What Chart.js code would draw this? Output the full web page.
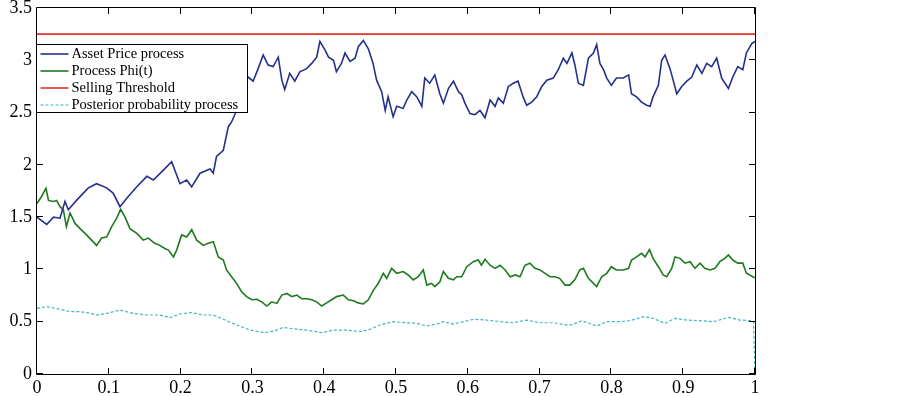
<!DOCTYPE html>
<html><head><meta charset="utf-8">
<script src="https://cdn.jsdelivr.net/npm/chart.js@4.4.1/dist/chart.umd.min.js"></script>
<style>html,body{margin:0;padding:0;background:#fff;}#wrap{width:902px;height:396px;}</style>
</head><body><div id="wrap"><canvas id="c" width="902" height="396"></canvas></div>
<script>
const seriesLabels = ["Asset Price process", "Process Phi(t)", "Selling Threshold", "Posterior probability process"];
const seriesColors = ["#24308c", "#1e7a1e", "#e4322b", "#40b6c2"];

const priceT = [0,0.0135,0.023,0.032,0.039,0.0436,0.055,0.0715,0.083,0.097,0.106,0.1156,0.125,0.139,0.153,0.162,0.176,0.1876,0.199,0.2085,0.2154,0.227,0.241,0.2455,0.25,0.2595,0.2665,0.271,0.278,0.287,0.294,0.301,0.308,0.315,0.322,0.329,0.336,0.341,0.345,0.352,0.359,0.366,0.3756,0.3826,0.3895,0.394,0.401,0.406,0.413,0.417,0.424,0.429,0.436,0.443,0.4475,0.4545,0.4615,0.468,0.473,0.48,0.485,0.489,0.496,0.501,0.51,0.515,0.522,0.529,0.536,0.54,0.547,0.554,0.561,0.566,0.573,0.58,0.587,0.5915,0.596,0.603,0.61,0.617,0.624,0.631,0.638,0.6425,0.6495,0.6565,0.6634,0.67,0.677,0.682,0.689,0.696,0.703,0.71,0.719,0.726,0.733,0.738,0.745,0.749,0.754,0.761,0.768,0.775,0.7795,0.784,0.789,0.7935,0.8,0.807,0.8166,0.824,0.828,0.835,0.842,0.849,0.854,0.858,0.8654,0.87,0.8747,0.8816,0.886,0.891,0.898,0.905,0.912,0.919,0.926,0.9327,0.9397,0.9466,0.9536,0.963,0.969,0.976,0.983,0.988,0.9955,1.0];
const priceV = [1.50,1.43,1.50,1.49,1.65,1.57,1.66,1.78,1.82,1.78,1.73,1.60,1.68,1.79,1.89,1.855,1.95,2.03,1.82,1.855,1.79,1.92,1.96,1.92,2.08,2.14,2.365,2.41,2.52,2.75,2.84,2.80,2.92,3.05,2.955,2.94,3.03,2.81,2.72,2.875,2.80,2.89,2.92,2.97,3.03,3.18,3.10,3.03,3.00,2.89,2.97,3.07,2.99,3.02,3.13,3.19,3.11,2.97,2.81,2.70,2.52,2.65,2.46,2.56,2.54,2.62,2.70,2.65,2.56,2.83,2.78,2.86,2.68,2.59,2.73,2.80,2.70,2.67,2.59,2.49,2.48,2.52,2.45,2.62,2.56,2.64,2.59,2.75,2.78,2.80,2.65,2.57,2.60,2.65,2.75,2.81,2.83,2.91,3.02,2.97,3.07,2.96,2.78,2.76,3.02,3.07,3.15,2.97,2.91,2.83,2.76,2.83,2.83,2.86,2.68,2.65,2.60,2.57,2.56,2.65,2.76,3.00,3.05,2.92,2.81,2.68,2.75,2.80,2.84,2.955,2.875,2.97,2.94,3.02,2.83,2.73,2.84,2.94,2.91,3.07,3.16,3.18];

const phiT = [0,0.0065,0.0125,0.016,0.023,0.0274,0.032,0.0367,0.041,0.046,0.053,0.06,0.069,0.076,0.083,0.09,0.097,0.104,0.111,0.1165,0.1226,0.1295,0.139,0.148,0.155,0.164,0.171,0.178,0.183,0.19,0.1945,0.2015,0.2085,0.2155,0.2224,0.2316,0.2386,0.2456,0.2525,0.2595,0.264,0.271,0.278,0.285,0.292,0.299,0.306,0.313,0.32,0.327,0.334,0.341,0.348,0.355,0.362,0.3686,0.3756,0.3826,0.3895,0.3965,0.4035,0.4104,0.4174,0.4266,0.4336,0.4406,0.4475,0.4545,0.4615,0.4684,0.4754,0.4823,0.487,0.494,0.501,0.51,0.517,0.524,0.531,0.538,0.543,0.5497,0.554,0.561,0.566,0.573,0.58,0.5845,0.5915,0.5985,0.6077,0.6146,0.619,0.624,0.631,0.638,0.645,0.652,0.659,0.666,0.6727,0.6797,0.6866,0.6936,0.7006,0.7075,0.7145,0.7214,0.728,0.7354,0.742,0.749,0.756,0.761,0.768,0.775,0.7795,0.7865,0.7935,0.8,0.807,0.8166,0.824,0.828,0.835,0.842,0.847,0.853,0.858,0.8654,0.872,0.877,0.884,0.8886,0.8955,0.9025,0.9095,0.9164,0.9234,0.93,0.9373,0.9443,0.951,0.958,0.963,0.969,0.976,0.983,0.988,0.997,1.0];
const phiV = [1.63,1.70,1.775,1.66,1.65,1.66,1.60,1.57,1.41,1.54,1.44,1.39,1.33,1.28,1.23,1.30,1.31,1.41,1.49,1.575,1.50,1.39,1.345,1.28,1.30,1.25,1.23,1.20,1.185,1.12,1.185,1.33,1.31,1.38,1.28,1.23,1.25,1.265,1.12,1.09,0.995,0.93,0.867,0.787,0.74,0.71,0.715,0.69,0.65,0.69,0.675,0.755,0.77,0.74,0.755,0.72,0.72,0.71,0.69,0.65,0.68,0.71,0.74,0.755,0.71,0.70,0.68,0.67,0.71,0.80,0.867,0.963,0.915,1.01,0.963,0.98,0.947,0.90,0.93,0.995,0.85,0.867,0.835,0.88,0.98,0.915,0.90,0.93,0.93,1.026,1.074,1.09,1.04,1.097,1.04,1.01,1.04,0.995,0.93,0.947,0.93,1.04,1.06,1.01,0.995,0.963,0.93,0.93,0.915,0.85,0.85,0.90,0.995,1.01,0.915,0.867,0.835,0.93,0.963,1.026,0.995,0.995,1.01,1.09,1.12,1.154,1.12,1.19,1.106,1.026,0.947,0.93,1.01,1.12,1.106,1.06,1.074,1.01,1.06,1.01,0.995,1.01,1.074,1.106,1.138,1.09,1.06,1.06,0.963,0.93,0.92];

const thresholdT = [0, 1];
const thresholdV = [3.25, 3.25];

const postT = [0,0.0135,0.032,0.046,0.06,0.0738,0.083,0.097,0.1156,0.134,0.153,0.171,0.185,0.199,0.2155,0.2316,0.2456,0.2595,0.278,0.2967,0.3175,0.3315,0.343,0.357,0.3756,0.3965,0.4127,0.4313,0.45,0.4638,0.4777,0.4963,0.515,0.5288,0.5427,0.5567,0.566,0.58,0.5937,0.6077,0.6263,0.645,0.6634,0.682,0.70,0.719,0.7377,0.745,0.7586,0.7795,0.7935,0.812,0.826,0.8444,0.858,0.8747,0.8886,0.905,0.9234,0.942,0.963,0.979,0.993,0.998,1.0];
const postV = [0.628,0.644,0.619,0.596,0.596,0.58,0.564,0.58,0.612,0.58,0.564,0.564,0.539,0.574,0.587,0.564,0.564,0.523,0.469,0.42,0.395,0.414,0.446,0.432,0.42,0.395,0.42,0.42,0.405,0.427,0.469,0.50,0.49,0.485,0.459,0.478,0.50,0.478,0.50,0.523,0.516,0.50,0.49,0.516,0.49,0.49,0.469,0.47,0.51,0.459,0.50,0.50,0.51,0.548,0.532,0.485,0.532,0.516,0.51,0.50,0.542,0.516,0.51,0.50,0.0];

const xTickValues = [0,0.1,0.2,0.3,0.4,0.5,0.6,0.7,0.8,0.9,1];
const xTickLabels = ["0","0.1","0.2","0.3","0.4","0.5","0.6","0.7","0.8","0.9","1"];
const yTickValues = [0,0.5,1,1.5,2,2.5,3,3.5];
const yTickLabels = ["0","0.5","1","1.5","2","2.5","3","3.5"];

function pts(t, v) { return t.map((x, i) => ({x: x, y: v[i]})); }

const FONT = "'Liberation Serif', 'Times New Roman', serif";

const framePlugin = {
  id: 'frame',
  afterDatasetsDraw(chart) {
    const ctx = chart.ctx, a = chart.chartArea;
    const xs = chart.scales.x, ys = chart.scales.y;
    ctx.save();
    ctx.strokeStyle = '#000';
    ctx.lineWidth = 1;
    ctx.beginPath();
    ctx.rect(Math.round(a.left) - 0.5, Math.round(a.top) - 0.5, Math.round(a.right - a.left) + 1, Math.round(a.bottom - a.top) + 1);
    ctx.stroke();
    const L = 6;
    ctx.beginPath();
    xTickValues.forEach(v => {
      const px = Math.round(xs.getPixelForValue(v)) - 0.5;
      ctx.moveTo(px, a.bottom); ctx.lineTo(px, a.bottom - L);
      ctx.moveTo(px, a.top); ctx.lineTo(px, a.top + L);
    });
    yTickValues.forEach(v => {
      const py = Math.round(ys.getPixelForValue(v)) - 0.5;
      ctx.moveTo(a.left, py); ctx.lineTo(a.left + L, py);
      ctx.moveTo(a.right, py); ctx.lineTo(a.right - L, py);
    });
    ctx.stroke();

    // legend box inside plot
    const bx = Math.round(a.left) - 0.5, by = Math.round(a.top) + 36.5;
    const bw = 211, bh = 68;
    ctx.fillStyle = '#fff';
    ctx.fillRect(bx, by, bw, bh);
    ctx.strokeStyle = '#000';
    ctx.lineWidth = 1;
    ctx.strokeRect(bx, by, bw, bh);
    ctx.font = "14.5px " + FONT;
    ctx.textBaseline = 'middle';
    ctx.textAlign = 'left';
    chart.data.datasets.forEach((ds, i) => {
      const ry = by + 9.5 + i * 17;
      ctx.save();
      ctx.strokeStyle = ds.borderColor;
      ctx.lineWidth = ds.borderWidth;
      ctx.setLineDash(ds.borderDash || []);
      ctx.beginPath();
      ctx.moveTo(bx + 4, ry); ctx.lineTo(bx + 32, ry);
      ctx.stroke();
      ctx.restore();
      ctx.fillStyle = '#000';
      ctx.fillText(ds.label, bx + 35, ry);
    });
    ctx.restore();
  }
};

new Chart(document.getElementById('c'), {
  type: 'line',
  data: {
    datasets: [
      {label: seriesLabels[0], data: pts(priceT, priceV), borderColor: seriesColors[0], borderWidth: 1.6, pointRadius: 0, tension: 0},
      {label: seriesLabels[1], data: pts(phiT, phiV), borderColor: seriesColors[1], borderWidth: 1.6, pointRadius: 0, tension: 0},
      {label: seriesLabels[2], data: pts(thresholdT, thresholdV), borderColor: seriesColors[2], borderWidth: 1.6, pointRadius: 0, tension: 0},
      {label: seriesLabels[3], data: pts(postT, postV), borderColor: seriesColors[3], borderWidth: 1.2, borderDash: [3, 2], pointRadius: 0, tension: 0}
    ]
  },
  options: {
    responsive: false,
    animation: false,
    devicePixelRatio: 1,
    layout: {padding: {top: 8, right: 147, left: 0, bottom: 0}},
    plugins: {legend: {display: false}, tooltip: {enabled: false}},
    scales: {
      x: {
        type: 'linear', min: 0, max: 1,
        afterBuildTicks: s => { s.ticks = xTickValues.map(v => ({value: v})); },
        ticks: {callback: (v, i) => xTickLabels[i], color: '#000', font: {family: FONT, size: 18}, padding: 3, maxRotation: 0, autoSkip: false},
        grid: {display: false, drawTicks: false},
        border: {display: false},
        afterFit: s => { s.height = 22; s.paddingLeft = 0; s.paddingRight = 0; }
      },
      y: {
        type: 'linear', min: 0, max: 3.5,
        afterBuildTicks: s => { s.ticks = yTickValues.map(v => ({value: v})); },
        ticks: {callback: (v, i) => yTickLabels[i], color: '#000', font: {family: FONT, size: 18}, padding: 5, autoSkip: false},
        grid: {display: false, drawTicks: false},
        border: {display: false},
        afterFit: s => { s.width = 37; s.paddingTop = 0; s.paddingBottom = 0; }
      }
    }
  },
  plugins: [framePlugin]
});
</script>
</body></html>
